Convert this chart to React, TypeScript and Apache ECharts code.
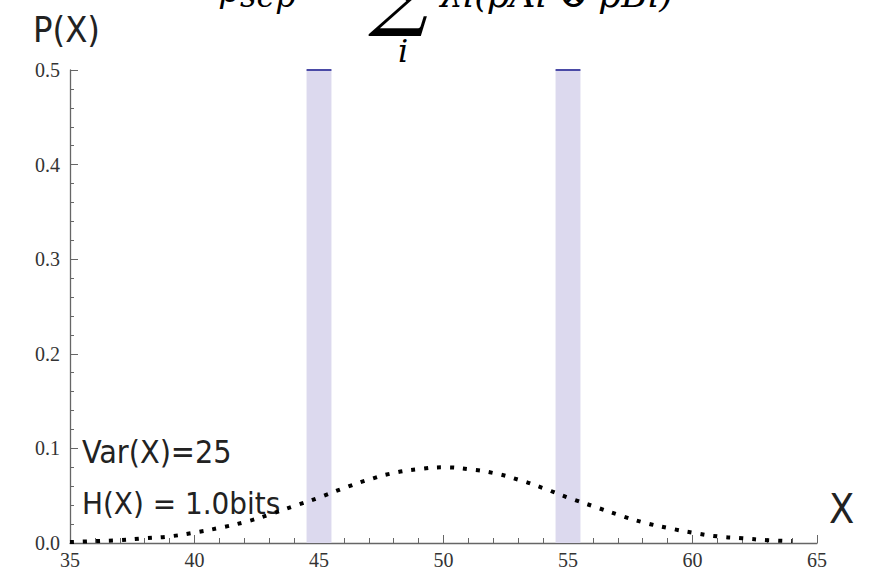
import React, { useEffect, useRef } from "react";
import * as echarts from "echarts";

// Distribution P(X) (dotted curve)
const curveX = [35, 36, 37, 38, 39, 40, 41, 42, 43, 44, 45, 46, 47, 48, 49, 50, 51, 52, 53, 54, 55, 56, 57, 58, 59, 60, 61, 62, 63, 64];
const curveY = [0.001, 0.002, 0.003, 0.005, 0.007, 0.011, 0.016, 0.022, 0.030, 0.039, 0.048, 0.058, 0.067, 0.074, 0.078, 0.080, 0.078, 0.074, 0.067, 0.058, 0.048, 0.039, 0.030, 0.022, 0.016, 0.011, 0.007, 0.005, 0.003, 0.002];

// Two-point distribution (bars)
const barX = [45, 55];
const barP = [0.5, 0.5];
const binWidth = 1;

const xTicks = { min: 35, max: 65, interval: 5 };
const yTicks = { min: 0, max: 0.5, interval: 0.1 };

const annotations = ["Var(X)=25", "H(X) = 1.0bits"];

const SANS = "'Liberation Sans Narrow', 'DejaVu Sans Condensed', 'Roboto Condensed', Roboto, sans-serif";
const SERIF = "'Liberation Serif', 'DejaVu Serif', serif";
const MATH = "'DejaVu Serif', 'Liberation Serif', serif";

export default function App() {
  const ref = useRef<HTMLDivElement>(null);
  useEffect(() => {
    if (!ref.current) return;
    const chart = echarts.init(ref.current, null, { renderer: "svg" });
    const axisColor = "#666";
    chart.setOption({
      animation: false,
      backgroundColor: "#fff",
      grid: { left: 70, right: 52, top: 70, bottom: 26, containLabel: false },
      xAxis: {
        type: "value",
        min: xTicks.min,
        max: xTicks.max,
        interval: xTicks.interval,
        axisLine: { show: true, onZero: false, lineStyle: { color: axisColor, width: 1.3 } },
        axisTick: { show: true, inside: true, length: 8, lineStyle: { color: axisColor } },
        minorTick: { show: true, splitNumber: 5, length: 5, lineStyle: { color: axisColor } },
        splitLine: { show: false },
        axisLabel: { fontFamily: SERIF, fontSize: 20, color: "#333", margin: 7 },
      },
      yAxis: {
        type: "value",
        min: yTicks.min,
        max: yTicks.max,
        interval: yTicks.interval,
        axisLine: { show: true, onZero: false, lineStyle: { color: axisColor, width: 1.3 } },
        axisTick: { show: true, inside: true, length: 8, lineStyle: { color: axisColor } },
        minorTick: { show: true, splitNumber: 5, length: 4, lineStyle: { color: axisColor } },
        splitLine: { show: false },
        axisLabel: {
          fontFamily: SERIF,
          fontSize: 20,
          color: "#333",
          margin: 10,
          formatter: (v: number) => v.toFixed(1),
        },
      },
      series: [
        {
          type: "custom",
          data: barX.map((x, i) => [x, barP[i]]),
          clip: false,
          z: 1,
          renderItem: (params: any, api: any) => {
            const x = api.value(0);
            const h = api.value(1);
            const p0 = api.coord([x - binWidth / 2, h]);
            const p1 = api.coord([x + binWidth / 2, 0]);
            return {
              type: "group",
              children: [
                {
                  type: "rect",
                  shape: { x: p0[0], y: p0[1], width: p1[0] - p0[0], height: p1[1] - p0[1] },
                  style: { fill: "#dcd9ee" },
                },
                {
                  type: "line",
                  shape: { x1: p0[0], y1: p0[1], x2: p1[0], y2: p0[1] },
                  style: { stroke: "#4a4aa6", lineWidth: 2 },
                },
              ],
            };
          },
        },
        {
          type: "line",
          data: curveX.map((x, i) => [x, curveY[i]]),
          smooth: true,
          showSymbol: false,
          z: 3,
          lineStyle: { color: "#000", width: 4, type: [4, 9], cap: "butt" },
        },
      ],
      graphic: [
        { type: "text", x: 33, y: 29, style: { text: "P(X)", font: `36px ${SANS}`, fill: "#222", verticalAlign: "middle", align: "left" } },
        { type: "text", x: 829, y: 509, style: { text: "X", font: `41px ${SANS}`, fill: "#222", verticalAlign: "middle", align: "left" } },
        { type: "text", x: 82, y: 452, style: { text: annotations[0], font: `32px ${SANS}`, fill: "#222", verticalAlign: "middle", align: "left" } },
        { type: "text", x: 82, y: 503, style: { text: annotations[1], font: `31px ${SANS}`, fill: "#222", verticalAlign: "middle", align: "left" } },
        // cropped formula at the top
        { type: "text", x: 220, y: -10, style: { text: "ρ", font: `italic 34px ${MATH}`, fill: "#000", verticalAlign: "middle", align: "left" } },
        { type: "text", x: 240, y: -4, style: { text: "sep", font: `italic 32px ${MATH}`, fill: "#000", verticalAlign: "middle", align: "left" } },
        { type: "text", x: 368, y: -9, style: { text: "∑", font: `84px ${MATH}`, fill: "#000", verticalAlign: "middle", align: "left" } },
        { type: "text", x: 398, y: 51, style: { text: "i", font: `italic 32px ${MATH}`, fill: "#000", verticalAlign: "middle", align: "left" } },
        { type: "text", x: 440, y: -6, style: { text: "λi(ρAi ⊗ ρBi)", font: `italic 36px ${MATH}`, fill: "#000", verticalAlign: "middle", align: "left" } },
      ],
    });
    return () => chart.dispose();
  }, []);
  return (
    <div
      ref={ref}
      style={{ position: "fixed", left: 0, top: 0, width: 869, height: 570, background: "#fff" }}
    />
  );
}
